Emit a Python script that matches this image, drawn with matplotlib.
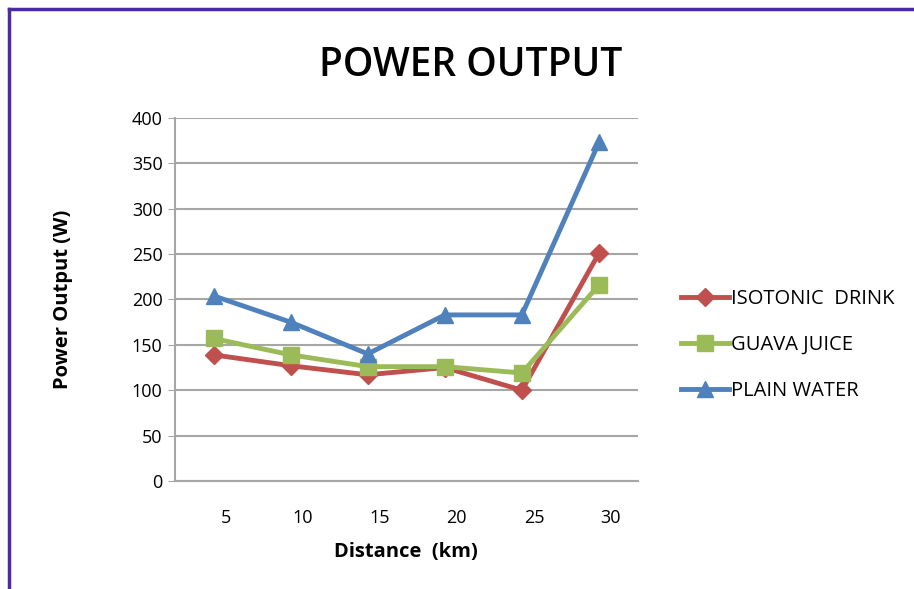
import matplotlib
matplotlib.use("Agg")
import matplotlib.pyplot as plt
from matplotlib.lines import Line2D
from matplotlib.transforms import ScaledTranslation

# data
distance = ["5", "10", "15", "20", "25", "30"]
isotonic = [139, 127, 117, 125, 100, 251]
guava = [157, 139, 126, 126, 119, 216]
plain = [204, 175, 140, 183, 183, 373]

plt.rcParams['font.family'] = ['Open Sans', 'DejaVu Sans']

fig = plt.figure(figsize=(9.14, 5.89), dpi=100)
ax = fig.add_axes([0.1915, 0.1834, 0.506, 0.6163])

x = range(len(distance))
ax.plot(x, isotonic, color="#C0504D", lw=3.5, marker="D", ms=9, label="ISOTONIC  DRINK")
ax.plot(x, guava, color="#9BBB59", lw=3.5, marker="s", ms=12, label="GUAVA JUICE")
ax.plot(x, plain, color="#4F81BD", lw=3.5, marker="^", ms=12, label="PLAIN WATER")

ax.set_xlim(-0.5, len(distance) - 0.5)
ax.set_ylim(0, 400)
ax.set_yticks(range(0, 401, 50))
ax.set_xticks(list(x))
ax.set_xticklabels(distance)
ax.grid(axis="y", color="#A6A6A6", lw=1.5)
ax.set_axisbelow(True)
for s in ["top", "right"]:
    ax.spines[s].set_visible(False)
for s in ["left", "bottom"]:
    ax.spines[s].set_color("#A6A6A6")
    ax.spines[s].set_linewidth(1.5)
ax.tick_params(axis="y", length=5, color="#A6A6A6", labelsize=13, pad=4)
ax.tick_params(axis="x", length=0, labelsize=13, pad=20)
# Excel puts the category labels a little right of the points
shift = ScaledTranslation(12 / 100, 0, fig.dpi_scale_trans)
for lbl in ax.get_xticklabels():
    lbl.set_transform(lbl.get_transform() + shift)

ax.set_xlabel("Distance  (km)", fontsize=14.5, fontweight="bold", labelpad=11)
ax.set_ylabel("Power Output (W)", fontsize=14.5, fontweight="bold", labelpad=42)

fig.text(0.515, 0.888, "POWER OUTPUT", ha="center", va="center",
         fontsize=28, fontweight="semibold")

ax.legend(loc="center left", bbox_to_anchor=(1.055, 0.375), frameon=False,
          fontsize=14.5, handlelength=2.4, labelspacing=1.3, handletextpad=0.1)

# purple frame at top and left
fig.add_artist(Line2D([9 / 914, 1], [1 - 9 / 589] * 2, transform=fig.transFigure,
                      color="#4B2AA8", lw=2.5))
fig.add_artist(Line2D([9 / 914] * 2, [0, 1 - 9 / 589], transform=fig.transFigure,
                      color="#4B2AA8", lw=2.5))

fig.savefig("out.png", dpi=100)
